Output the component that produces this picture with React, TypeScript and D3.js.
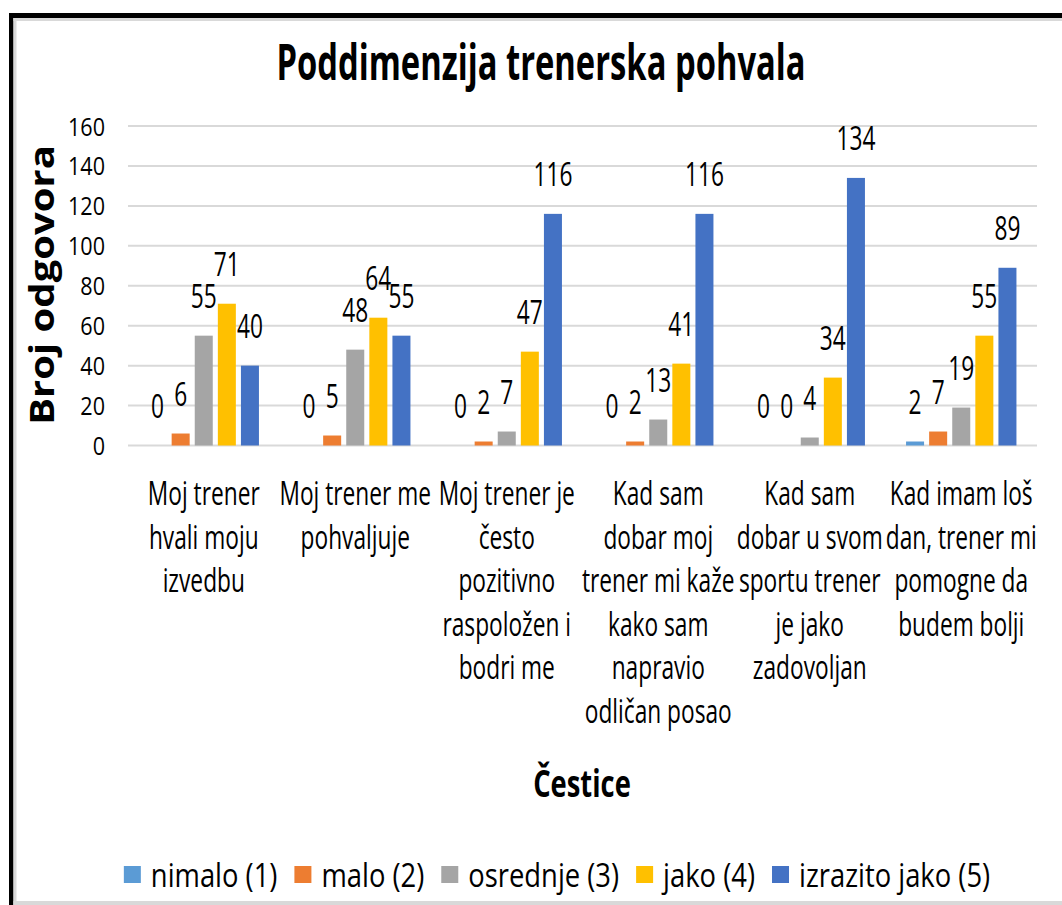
import React, { useEffect, useRef } from "react";
import * as d3 from "d3";

const W = 1062;
const H = 905;

const chartTitle = "Poddimenzija trenerska pohvala";
const yTitle = "Broj odgovora";
const xTitle = "Čestice";

// category labels, already split the way the chart wraps them
const categoryLines = [
  ["Moj trener", "hvali moju", "izvedbu"],
  ["Moj trener me", "pohvaljuje"],
  ["Moj trener je", "često", "pozitivno", "raspoložen i", "bodri me"],
  ["Kad sam", "dobar moj", "trener mi kaže", "kako sam", "napravio", "odličan posao"],
  ["Kad sam", "dobar u svom", "sportu trener", "je jako", "zadovoljan"],
  ["Kad imam loš", "dan, trener mi", "pomogne da", "budem bolji"],
];

const seriesNames = ["nimalo (1)", "malo (2)", "osrednje (3)", "jako (4)", "izrazito jako (5)"];
const seriesColors = ["#5B9BD5", "#ED7D31", "#A5A5A5", "#FFC000", "#4472C4"];

const nimalo = [0, 0, 0, 0, 0, 2];
const malo = [6, 5, 2, 2, 0, 7];
const osrednje = [55, 48, 7, 13, 4, 19];
const jako = [71, 64, 47, 41, 34, 55];
const izrazitoJako = [40, 55, 116, 116, 134, 89];

const yTicks = [0, 20, 40, 60, 80, 100, 120, 140, 160];

const FONT = "'Open Sans', sans-serif";

export default function App() {
  const svgRef = useRef<SVGSVGElement | null>(null);

  useEffect(() => {
    document.body.style.margin = "0";
    if (!svgRef.current) return;
    const svg = d3.select(svgRef.current);
    svg.selectAll("*").remove();

    const series = [nimalo, malo, osrednje, jako, izrazitoJako];
    const cats = categoryLines.map((_, i) => i);

    const plot = { left: 128, right: 1037, top: 126, bottom: 445.5 };

    const x0 = d3.scaleBand<number>().domain(cats).range([plot.left, plot.right]).padding(0);
    const x1 = d3
      .scaleBand<number>()
      .domain(d3.range(series.length))
      .range([0, x0.bandwidth()])
      .paddingInner(0.22)
      .paddingOuter(0.89);
    const y = d3.scaleLinear().domain([0, 160]).range([plot.bottom, plot.top]);

    const txt = (
      g: any,
      x: number,
      yy: number,
      s: string,
      o: { size: number; sx?: number; sy?: number; weight?: string; anchor?: string; rotate?: number }
    ) =>
      g
        .append("text")
        .attr(
          "transform",
          `translate(${x},${yy})${o.rotate ? ` rotate(${o.rotate})` : ""} scale(${o.sx ?? 1},${o.sy ?? 1})`
        )
        .attr("text-anchor", o.anchor ?? "middle")
        .style("font-family", FONT)
        .style("font-size", `${o.size}px`)
        .style("font-weight", o.weight ?? "normal")
        .style("fill", "#000")
        .text(s);

    // frame
    svg.append("rect").attr("width", W).attr("height", H).attr("fill", "#fff");
    svg.append("rect").attr("x", 9).attr("y", 13).attr("width", W - 9).attr("height", 5).attr("fill", "#000");
    svg.append("rect").attr("x", 9).attr("y", 13).attr("width", 4.5).attr("height", H - 13).attr("fill", "#000");
    svg.append("line").attr("x1", 13.5).attr("x2", W).attr("y1", 19.5).attr("y2", 19.5)
      .attr("stroke", "#d9d9d9").attr("stroke-width", 3);
    svg.append("line").attr("x1", 15).attr("x2", 15).attr("y1", 18).attr("y2", H)
      .attr("stroke", "#d9d9d9").attr("stroke-width", 3);
    svg.append("line").attr("x1", 13.5).attr("x2", W).attr("y1", 903).attr("y2", 903)
      .attr("stroke", "#d9d9d9").attr("stroke-width", 4);

    // gridlines
    svg
      .append("g")
      .selectAll("line")
      .data(yTicks)
      .join("line")
      .attr("x1", plot.left)
      .attr("x2", plot.right)
      .attr("y1", (d) => y(d))
      .attr("y2", (d) => y(d))
      .attr("stroke", "#d9d9d9")
      .attr("stroke-width", 2);

    // y tick labels
    const ty = svg.append("g");
    yTicks.forEach((t) => txt(ty, 105, y(t) + 9.5, String(t), { size: 26, sx: 0.83, anchor: "end" }));

    // bars
    const bars = svg.append("g");
    series.forEach((vals, si) => {
      bars
        .append("g")
        .selectAll("rect")
        .data(vals)
        .join("rect")
        .attr("x", (_, ci) => (x0(ci) as number) + (x1(si) as number))
        .attr("y", (d) => y(d))
        .attr("width", x1.bandwidth())
        .attr("height", (d) => y(0) - y(d))
        .attr("fill", seriesColors[si]);
    });

    // data labels
    const lab = svg.append("g");
    series.forEach((vals, si) => {
      vals.forEach((v, ci) => {
        const cx = (x0(ci) as number) + (x1(si) as number) + x1.bandwidth() / 2;
        txt(lab, cx, y(v) - 28, String(v), { size: 32, sx: 0.71 });
      });
    });

    // category labels
    const cl = svg.append("g");
    categoryLines.forEach((lines, ci) => {
      const cx = (x0(ci) as number) + x0.bandwidth() / 2;
      lines.forEach((ln, li) => txt(cl, cx, 505 + li * 43.6, ln, { size: 32, sx: 0.71 }));
    });

    // titles
    txt(svg, 541, 80, chartTitle, { size: 50, sx: 0.655, weight: "bold" });
    txt(svg, 582, 797, xTitle, { size: 38, sx: 0.72, weight: "bold" });
    txt(svg, 54, 285, yTitle, { size: 40, sy: 0.85, weight: "bold", rotate: -90 });

    // legend
    const lg = svg.append("g");
    const sw = 17;
    const legendSx = 0.83;
    const items = seriesNames.map((name, i) => {
      const t = txt(lg, 0, 887, name, { size: 33, sx: legendSx, anchor: "start" });
      const w = (t.node() as SVGTextElement).getComputedTextLength() * legendSx;
      return { t, w, i };
    });
    const total = d3.sum(items, (d) => sw + 10 + d.w) + 17 * (items.length - 1);
    let cx = 557 - total / 2;
    items.forEach((it) => {
      lg.append("rect").attr("x", cx).attr("y", 866).attr("width", sw).attr("height", sw)
        .attr("fill", seriesColors[it.i]);
      it.t.attr("transform", `translate(${cx + sw + 10},887) scale(${legendSx},1)`);
      cx += sw + 10 + it.w + 17;
    });
  }, []);

  return <svg ref={svgRef} width={W} height={H} style={{ display: "block" }} />;
}
